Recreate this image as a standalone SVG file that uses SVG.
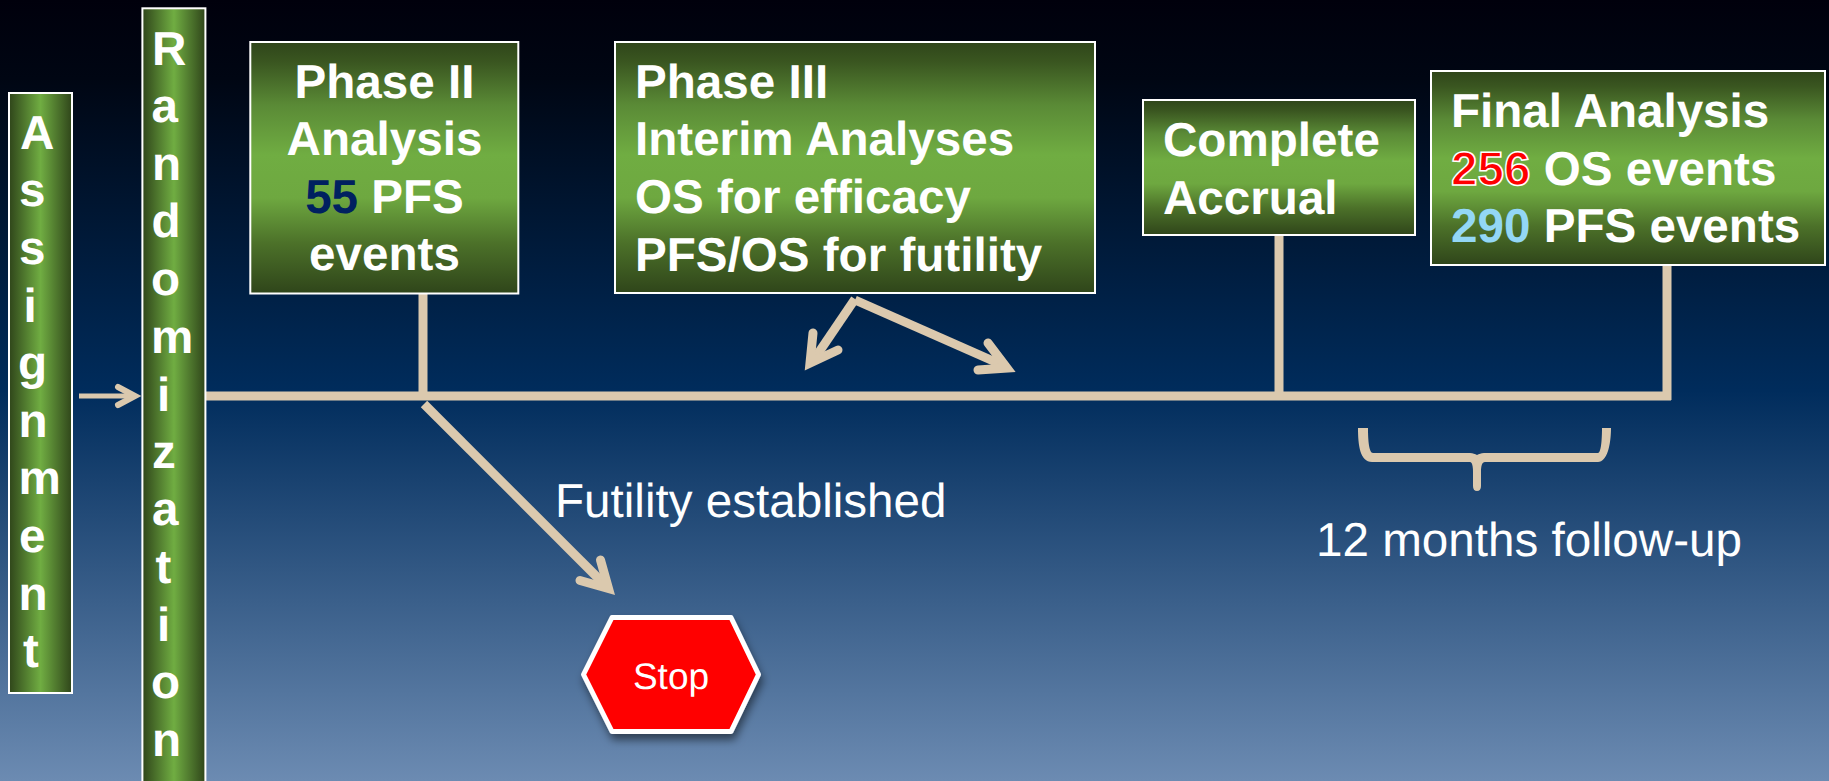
<svg xmlns="http://www.w3.org/2000/svg" width="1829" height="781" viewBox="0 0 1829 781">
<style>
.box{stroke:#fff;stroke-width:2}
.v{fill:url(#gv)}.h{fill:url(#gh)}
text{font-family:"Liberation Sans",Arial,sans-serif;fill:#fff;text-rendering:geometricPrecision}
.b{font-weight:700;font-size:47.6px}
.r{font-size:47.6px}
.c{text-anchor:middle}
.line{fill:none;stroke:#dbc9ae;stroke-width:9}
.head{fill:none;stroke:#dbc9ae;stroke-width:9;stroke-linecap:round;stroke-miterlimit:10}
</style>
<defs>
<linearGradient id="bg" x1="0" y1="0" x2="0" y2="1"><stop offset="0" stop-color="#00000c"/><stop offset="0.1" stop-color="#000613"/><stop offset="0.5" stop-color="#002c5c"/><stop offset="1" stop-color="#6c8bb2"/></linearGradient>
<linearGradient id="gv" x1="0" y1="0" x2="0" y2="1"><stop offset="0" stop-color="#2f451a"/><stop offset="0.08" stop-color="#3a5620"/><stop offset="0.25" stop-color="#5a8a36"/><stop offset="0.45" stop-color="#70ad42"/><stop offset="0.62" stop-color="#6ea840"/><stop offset="0.8" stop-color="#4c7129"/><stop offset="1" stop-color="#2f451a"/></linearGradient>
<linearGradient id="gh" x1="0" y1="0" x2="1" y2="0"><stop offset="0" stop-color="#2f451a"/><stop offset="0.5" stop-color="#70ad42"/><stop offset="1" stop-color="#2f451a"/></linearGradient>
<filter id="sh" x="-20%" y="-20%" width="140%" height="140%"><feDropShadow dx="2" dy="6" stdDeviation="4" flood-color="#000" flood-opacity="0.5"/></filter>
</defs>
<rect width="1829" height="781" fill="url(#bg)"/>
<g id="connectors">
<path class="line" d="M206 396H1671M423 294V396M1279 236V396M1667 265V400"/>
<path class="line" style="stroke-width:5" d="M79 396H134"/>
<path class="head" style="stroke-width:6" d="M118 387L135 396L118 405"/>
<path class="line" d="M424 404L603 583"/>
<path class="head" d="M600.500 560L608.500 588.500L580 580.500"/>
<path class="line" d="M855 299L815 358"/>
<path class="head" d="M813 333L810 363L838 350"/>
<path class="line" d="M855 300L1000 364"/>
<path class="head" d="M988 343L1007 368L978 370"/>
<path fill="#dbc9ae" d="M1358 428C1358 445 1360 462 1372 462H1470C1472 462 1473 466 1473 472V486Q1473 491 1477 491Q1481 491 1481 486V472C1481 466 1482 462 1485 462H1598C1607 462 1611 445 1611 428H1602C1602 440 1601 453 1598 453H1484C1481 453 1479 454 1477 455C1475 454 1473 453 1470 453H1373C1369 453 1368 440 1368 428Z"/>
</g>
<g id="assignment"><rect class="box h" x="9" y="93" width="63" height="600"/>
<text class="b"><tspan x="20" y="149">A</tspan><tspan x="19" y="206">s</tspan><tspan x="19" y="264">s</tspan><tspan x="23.500" y="322">i</tspan><tspan x="18" y="379">g</tspan><tspan x="18.500" y="437">n</tspan><tspan x="18.500" y="494">m</tspan><tspan x="19" y="552">e</tspan><tspan x="18.500" y="610">n</tspan><tspan x="23" y="667">t</tspan></text></g>
<g id="randomization"><rect class="box h" x="142.400" y="8.300" width="63" height="790"/>
<text class="b"><tspan x="152" y="65">R</tspan><tspan x="151.500" y="122">a</tspan><tspan x="152" y="180">n</tspan><tspan x="151.500" y="237">d</tspan><tspan x="151" y="295">o</tspan><tspan x="151" y="353">m</tspan><tspan x="157" y="411">i</tspan><tspan x="152" y="468">z</tspan><tspan x="152" y="525">a</tspan><tspan x="155.500" y="583">t</tspan><tspan x="157" y="641">i</tspan><tspan x="151" y="698">o</tspan><tspan x="152" y="756">n</tspan></text></g>
<g id="phase2"><rect class="box v" x="250.300" y="42" width="268" height="251.500"/>
<text class="b c" x="384.500" y="98">Phase II</text><text class="b c" x="384.500" y="155">Analysis</text><text class="b c" x="384.500" y="213"><tspan fill="#002060">55</tspan> PFS</text><text class="b c" x="384.500" y="270">events</text></g>
<g id="phase3"><rect class="box v" x="615" y="42" width="480" height="251"/>
<text class="b" x="635" y="98">Phase III</text><text class="b" x="635" y="155">Interim Analyses</text><text class="b" x="635" y="213">OS for efficacy</text><text class="b" x="635" y="270.500">PFS/OS for futility</text></g>
<g id="accrual"><rect class="box v" x="1143" y="100" width="272" height="135"/>
<text class="b" x="1163" y="156">Complete</text><text class="b" x="1163" y="213.500">Accrual</text></g>
<g id="final"><rect class="box v" x="1431" y="71" width="394" height="194"/>
<text class="b" x="1451" y="127">Final Analysis</text><text class="b" x="1451" y="184.500"><tspan fill="#f00" stroke="#fff" stroke-width="1.500">256</tspan> OS events</text><text class="b" x="1451" y="242"><tspan fill="#93d7f5">290</tspan> PFS events</text></g>
<g id="stop"><path d="M583.500 674.500L612 617.500H731L758.500 674.500L731 731.500H612Z" fill="#f00" stroke="#fff" stroke-width="5" stroke-linejoin="round" filter="url(#sh)"/>
<text class="c" x="671" y="688.500" font-size="37">Stop</text></g>
<text class="r" x="555" y="517">Futility established</text>
<text class="r" x="1316" y="556">12 months follow-up</text>
</svg>
